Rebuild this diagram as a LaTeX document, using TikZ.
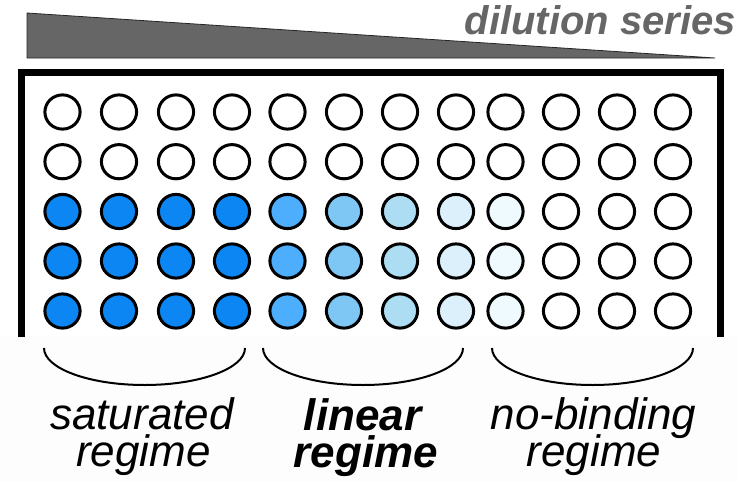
\documentclass[tikz,border=0pt]{standalone}
\usepackage{fontspec}
\setmainfont{Liberation Sans}
\usetikzlibrary{shapes.geometric}

% well fill colours per column (rows with sample)
\definecolor{wc1}{RGB}{12,134,242}
\definecolor{wc2}{RGB}{12,134,242}
\definecolor{wc3}{RGB}{12,134,242}
\definecolor{wc4}{RGB}{12,134,242}
\definecolor{wc5}{RGB}{76,174,252}
\definecolor{wc6}{RGB}{126,199,245}
\definecolor{wc7}{RGB}{173,221,242}
\definecolor{wc8}{RGB}{219,240,250}
\definecolor{wc9}{RGB}{239,250,255}
\definecolor{wc10}{RGB}{255,255,255}
\definecolor{wc11}{RGB}{255,255,255}
\definecolor{wc12}{RGB}{255,255,255}
\definecolor{wedgegray}{RGB}{102,102,102}
\definecolor{bandgray}{RGB}{253,253,253}

\begin{document}
\begin{tikzpicture}[x=1pt,y=-1pt,
  well/.style={ellipse, draw=black, line width=3pt, inner sep=0pt,
               minimum width=35.2pt, minimum height=34.2pt},
  bracket/.style={draw=black, line width=2pt},
  regime/.style={font=\fontsize{44}{37}\selectfont\itshape, anchor=base, inner sep=0pt},
  boldregime/.style={regime, font=\fontsize{44}{37}\selectfont\bfseries\itshape},
  plate/.style={draw=black, line width=6.5pt, line join=miter}]
\useasboundingbox (0,0) rectangle (752,482);

% dilution wedge and its label
\filldraw[fill=wedgegray, draw=black!85, line width=0.8pt]
  (27,13) -- (715,58) -- (27,58) -- cycle;
\node[anchor=base east, inner sep=0pt, text=wedgegray,
      font=\fontsize{40}{40}\selectfont\bfseries\itshape] (dil) at (736,34) {dilution series};

% plate frame
\draw[plate] (21.5,337) -- (21.5,72.5) -- (720.5,72.5) -- (720.5,337);

% wells: two empty rows, three sample rows
\foreach \x [count=\i] in {62.5,119,176,232,287.5,344,400,456,505.5,561,617,673} {
  \foreach \y [count=\j] in {112,161.7} {
    \node[well, fill=white] (w\j-\i) at (\x,\y) {};
  }
  \foreach \y [count=\j from 3] in {211.5,261,311} {
    \node[well, fill=wc\i] (w\j-\i) at (\x,\y) {};
  }
}

% lower band
\fill[bandgray] (0,337) rectangle (738,482);

% regime brackets
\foreach \l/\r [count=\k] in {44/245, 263/463, 492/693} {
  \pgfmathsetmacro{\m}{(\l+\r)/2}
  \pgfmathsetmacro{\h}{(\r-\l)/2*0.5523}
  \coordinate (b\k-l) at (\l,348);
  \coordinate (b\k-r) at (\r,348);
  \coordinate (b\k-m) at (\m,385);
  \draw[bracket] (b\k-l) .. controls +(0,20.4) and +(-\h,0) .. (b\k-m)
                        .. controls +(\h,0) and +(0,20.4) .. (b\k-r);
}

% regime labels
\node[regime] (sat1) at (142,429) {saturated};
\node[regime] (sat2) at (143.5,466) {regime};
\node[boldregime] (lin1) at (362.5,430) {linear};
\node[boldregime] (lin2) at (366,467) {regime};
\node[regime] (nob1) at (593.5,429) {no-binding};
\node[regime] (nob2) at (594,466) {regime};
\end{tikzpicture}
\end{document}
